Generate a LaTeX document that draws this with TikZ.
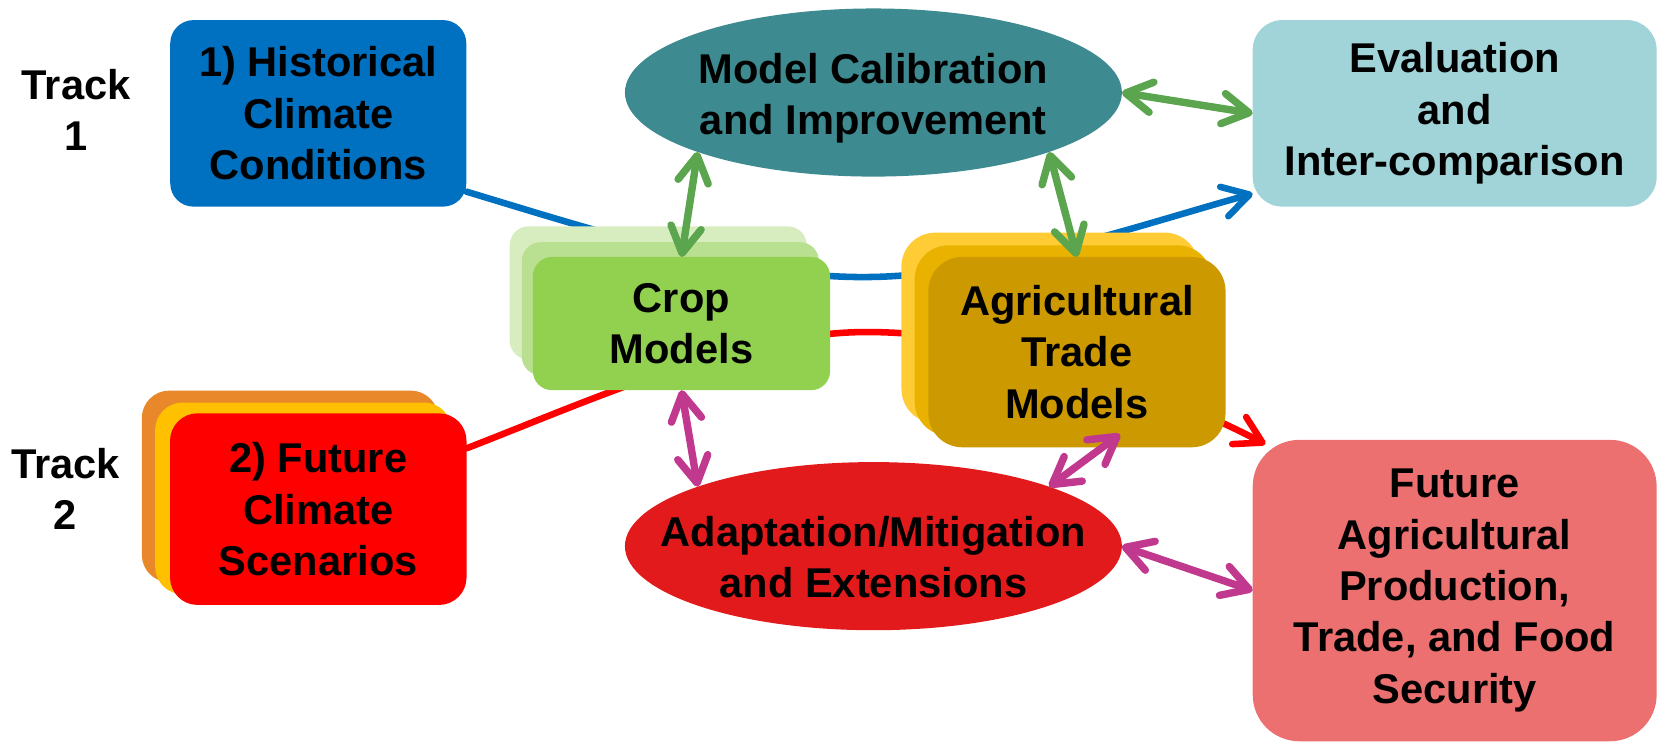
\documentclass[tikz,border=0pt]{standalone}
\usepackage{fontspec}
\setmainfont{Liberation Sans}
\usetikzlibrary{shapes.geometric,arrows.meta,backgrounds,calc}

\definecolor{histblue}{HTML}{0070C0}
\definecolor{calibteal}{HTML}{3D8A90}
\definecolor{evalcyan}{HTML}{A0D4D8}
\definecolor{cropfront}{HTML}{92D050}
\definecolor{cropmid}{HTML}{B9E090}
\definecolor{cropback}{HTML}{D7EDC0}
\definecolor{tradefront}{HTML}{CC9A00}
\definecolor{trademid}{HTML}{E9B200}
\definecolor{tradeback}{HTML}{FFCC36}
\definecolor{scenfront}{HTML}{FF0000}
\definecolor{scenmid}{HTML}{FFC000}
\definecolor{scenback}{HTML}{E8882B}
\definecolor{adaptred}{HTML}{E31A1C}
\definecolor{foodpink}{HTML}{EC7070}
\definecolor{linkgreen}{HTML}{5AA54E}
\definecolor{linkmagenta}{HTML}{C0398F}

\begin{document}
\begin{tikzpicture}[x=0.25mm, y=-0.25mm,
	every node/.style={font=\bfseries\fontsize{28}{34.5}\selectfont, align=center, inner sep=0pt, outer sep=0pt},
	barbtip/.tip={Straight Barb[length=6.2mm, width=7.2mm, round]},
	oval/.style={ellipse, minimum width=117.5mm, minimum height=39.75mm},
	cropcard/.style={rounded corners=4.5mm, minimum width=70.25mm, minimum height=31.5mm},
	tradecard/.style={rounded corners=8mm, minimum width=70.25mm, minimum height=45mm},
	scencard/.style={rounded corners=6.5mm, minimum width=70.1mm, minimum height=45.3mm},
	link/.style={line width=5pt, line cap=round, barbtip-barbtip},
	flow/.style={line width=4.4pt, line cap=round}]
	\useasboundingbox (0,0) rectangle (1568,704);

	\node (track1) at (72,104) {Track\\1};
	\node (track2) at (62,462.5) {Track\\2};

	\node[fill=histblue, rounded corners=5.5mm, minimum width=70mm, minimum height=44.1mm] (hist) at (301,107.2) {1) Historical\\Climate\\Conditions};
	\node[oval, fill=calibteal] (calib) at (826,87.5) {};
	\node (calibtext) at (826,93) {Model Calibration\\and Improvement};
	\node[fill=evalcyan, rounded corners=7mm, minimum width=95.5mm, minimum height=44.1mm] (eval) at (1375.7,107.2) {Evaluation\\and\\Inter-comparison};

	\foreach \n/\x/\y/\c in {cropC/622.5/277/cropback, cropB/634/292/cropmid} {
		\node[cropcard, fill=\c] (\n) at (\x,\y) {};
	}
	\node[cropcard, fill=cropfront] (crop) at (644.5,306) {Crop\\Models};

	\foreach \n/\x/\y/\c in {tradeC/993/310/tradeback, tradeB/1005.5/322/trademid} {
		\node[tradecard, fill=\c] (\n) at (\x,\y) {};
	}
	\node[tradecard, fill=tradefront] (trade) at (1018.5,333) {Agricultural\\Trade\\Models};

	\foreach \n/\x/\y/\c in {scenC/274.3/460/scenback, scenB/286.9/471.3/scenmid} {
		\node[scencard, fill=\c] (\n) at (\x,\y) {};
	}
	\node[scencard, fill=scenfront] (scen) at (301,481.5) {2) Future\\Climate\\Scenarios};

	\node[oval, fill=adaptred] (adapt) at (826,516.5) {};
	\node (adapttext) at (826,527) {Adaptation/Mitigation\\and Extensions};
	\node[fill=foodpink, rounded corners=11mm, minimum width=95.5mm, minimum height=71.25mm] (food) at (1375.7,558.5) {Future\\Agricultural\\Production,\\Trade, and Food\\Security};

	\begin{scope}[on background layer]
		\draw[flow, histblue, -barbtip] ($(hist.east)+(0,74)$) .. controls (560,217) and (700,263) .. (820,262) .. controls (940,261) and (1080,212) .. ($(eval.west)+(0,76)$);
		\draw[flow, scenfront, -barbtip] ($(scen.east)+(0,-57.5)$) .. controls (560,378) and (700,314) .. (820,314) .. controls (950,314) and (1100,370) .. ($(food.north west)+(12,4)$);
	\end{scope}

	\draw[link, linkgreen] (calib.south west) -- (crop.north);
	\draw[link, linkgreen] (calib.south east) -- (trade.north);
	\draw[link, linkgreen] (calib.east) -- (eval.west);
	\draw[link, linkmagenta] (crop.south) -- (adapt.north west);
	\draw[link, linkmagenta] (adapt.north east) -- ($(trade.south)+(40.7,-12.3)$);
	\draw[link, linkmagenta] (adapt.east) -- (food.west);
\end{tikzpicture}
\end{document}
